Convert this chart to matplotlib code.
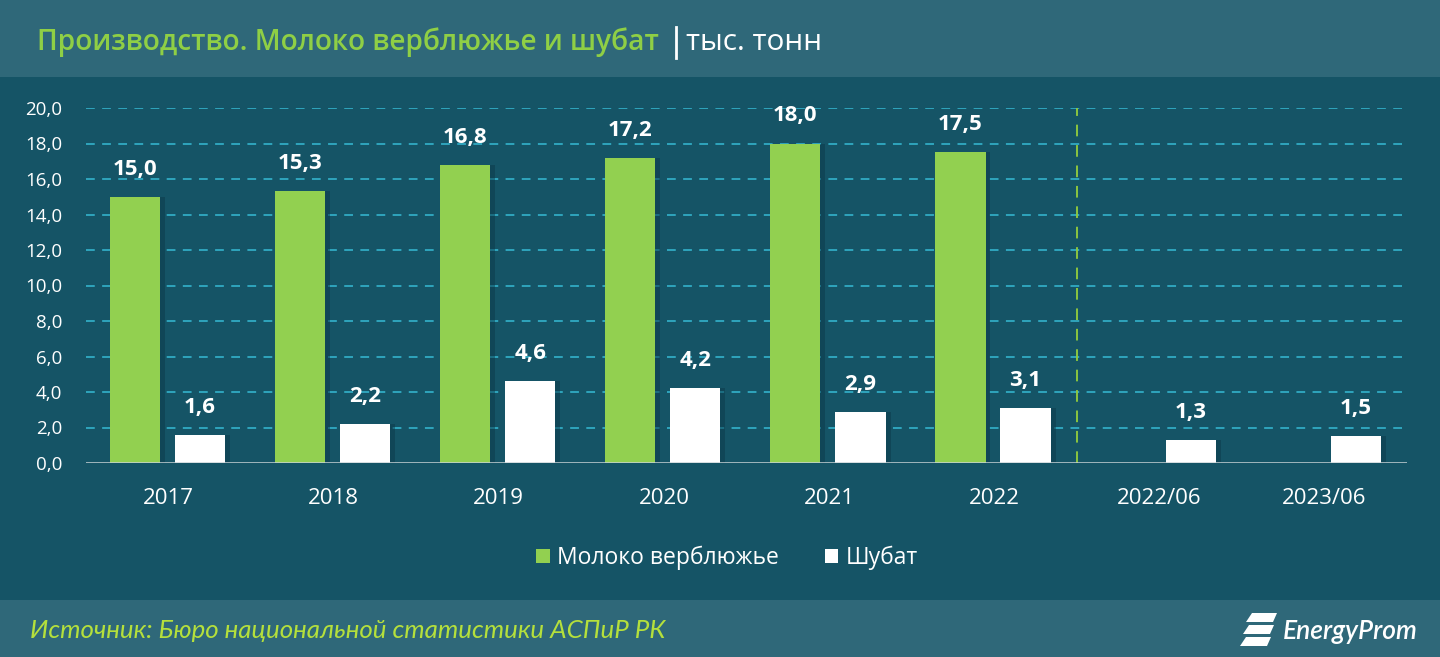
import matplotlib
matplotlib.use("Agg")
import matplotlib.pyplot as plt
from matplotlib.patches import Rectangle, Polygon
from matplotlib.lines import Line2D
import numpy as np

categories = ["2017", "2018", "2019", "2020", "2021", "2022", "2022/06", "2023/06"]
milk = [15.0, 15.3, 16.8, 17.2, 18.0, 17.5, None, None]
shubat = [1.6, 2.2, 4.6, 4.2, 2.9, 3.1, 1.3, 1.5]
yticks = [0, 2, 4, 6, 8, 10, 12, 14, 16, 18, 20]
title_main = "Производство. Молоко верблюжье и шубат"
title_unit = "тыс. тонн"
source = "Источник: Бюро национальной статистики АСПиР РК"
series_names = ["Молоко верблюжье", "Шубат"]

BG = "#155466"
BAND = "#2f6879"
GREEN = "#92d050"
TITLE_GREEN = "#8fcf45"
GRID = "#2fa5bd"

W, H = 1440, 657
fig = plt.figure(figsize=(W / 100, H / 100), dpi=100)
fig.patch.set_facecolor(BG)
renderer = fig.canvas.get_renderer()


def fit_text(t, target_w):
    bb = t.get_window_extent(renderer=renderer)
    t.set_fontsize(t.get_fontsize() * target_w / bb.width)
    return t.get_window_extent(renderer=renderer)


# header and footer bands
fig.add_artist(Rectangle((0, 1 - 77 / H), 1, 77 / H, transform=fig.transFigure,
                         facecolor=BAND, edgecolor="none", zorder=0))
fig.add_artist(Rectangle((0, 0), 1, 57 / H, transform=fig.transFigure,
                         facecolor=BAND, edgecolor="none", zorder=0))

fam = ["Open Sans", "DejaVu Sans"]
ax = fig.add_axes([86 / W, (H - 463) / H, 1321 / W, 355 / H])
ax.set_facecolor("none")
x = np.arange(len(categories))
ax.set_xlim(-0.5, len(categories) - 0.5)
ax.set_ylim(0, 20)

for yv in yticks[1:]:
    ax.axhline(yv, color=GRID, lw=1.4, dashes=(4.5, 3.8), zorder=1)
ax.axhline(0, color="#c9d3d7", lw=1.8, zorder=4)
ax.axvline(5.5, ymin=0, ymax=1, color="#8cc63f", lw=1.4, dashes=(6, 4.5), zorder=2)

bw = 0.305
off_g, off_w = -0.205, 0.19
for i, (m, s) in enumerate(zip(milk, shubat)):
    if m is not None:
        ax.bar(x[i] + off_g + 0.03, m, bw, color="#0c3a4a", alpha=0.5, zorder=2)
        ax.bar(x[i] + off_g, m, bw, color=GREEN, zorder=3)
        ax.text(x[i] + off_g, m + 1.55, f"{m:.1f}".replace(".", ","), ha="center", va="center",
                color="white", fontsize=16, fontweight="bold", family=fam)
    if s is not None:
        ax.bar(x[i] + off_w + 0.03, s, bw, color="#0c3a4a", alpha=0.5, zorder=2)
        ax.bar(x[i] + off_w, s, bw, color="white", zorder=3)
        ax.text(x[i] + off_w, s + 1.55, f"{s:.1f}".replace(".", ","), ha="center", va="center",
                color="white", fontsize=16, fontweight="bold", family=fam)

ax.set_yticks(yticks)
ax.set_yticklabels([f"{v:.1f}".replace(".", ",") for v in yticks], color="white",
                   fontsize=13.5, family=fam)
ax.set_xticks(x)
ax.set_xticklabels(categories, color="white", fontsize=16, family=fam)
ax.tick_params(axis="both", length=0)
ax.tick_params(axis="y", pad=17)
ax.tick_params(axis="x", pad=18)
for sp in ax.spines.values():
    sp.set_visible(False)

# legend
handles = [Rectangle((0, 0), 1, 1, facecolor=GREEN, edgecolor="none"),
           Rectangle((0, 0), 1, 1, facecolor="white", edgecolor="none")]
leg = fig.legend(handles, series_names, loc="center", bbox_to_anchor=(727 / W, (H - 558) / H),
                 ncol=2, frameon=False, handlelength=0.6, handleheight=0.6, handletextpad=0.3,
                 columnspacing=2.0, prop={"family": fam, "size": 16.5})
for t in leg.get_texts():
    t.set_color("white")

# title
t1 = fig.text(37 / W, 1 - 42 / H, title_main, color=TITLE_GREEN, fontsize=19,
              fontweight="semibold", family=fam, va="center", ha="left")
bb = fit_text(t1, 623)
xr = bb.x1
fig.add_artist(Line2D([(xr + 17) / W] * 2, [1 - 27 / H, 1 - 58 / H],
                      transform=fig.transFigure, color="white", lw=2))
t2 = fig.text((xr + 27) / W, 1 - 42 / H, title_unit, color="white", fontsize=19,
              family=fam, va="center", ha="left")
fit_text(t2, 136)

# source
ts = fig.text(30 / W, 1 - 630 / H, source, color="#b5e03c", fontsize=17, style="italic",
              family=["Lato", "DejaVu Sans"], va="center", ha="left")
fit_text(ts, 638)

# logo
for k in range(3):
    y0 = 1 - (613 + k * 12) / H
    xs = np.array([1252, 1277, 1273, 1246]) - k * 3
    ys = np.array([y0, y0, y0 - 9 / H, y0 - 9 / H])
    fig.add_artist(Polygon(np.column_stack([xs / W, ys]), closed=True,
                           transform=fig.transFigure, facecolor="white", edgecolor="none"))
tl = fig.text(1283 / W, 1 - 632 / H, "EnergyProm", color="white", fontsize=19, style="italic",
              fontweight="semibold", family=["Lato", "DejaVu Sans"], va="center", ha="left")
fit_text(tl, 135)

fig.savefig("out.png", dpi=100, facecolor=fig.get_facecolor())
